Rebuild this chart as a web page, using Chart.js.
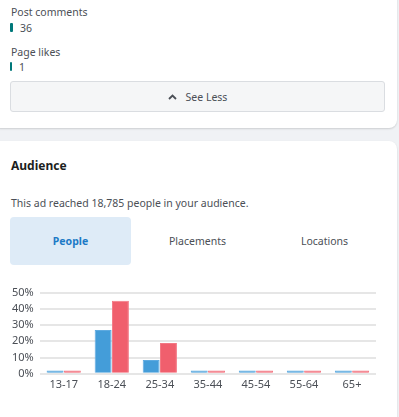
<!DOCTYPE html>
<html>
<head>
<meta charset="utf-8">
<script src="https://cdn.jsdelivr.net/npm/chart.js@4"></script>
<style>
  body { margin: 0; background: #f0f2f5; font-family: "Noto Sans", sans-serif; color: #1c1e21; width: 399px; height: 417px; overflow: hidden; position: relative; }
  .card { position: absolute; background: #fff; border-radius: 8px; box-shadow: 0 1px 2px rgba(0,0,0,0.15); }
  .t { position: absolute; font-size: 10.5px; color: #4b4f56; white-space: nowrap; }
  .mark { position: absolute; background: #00787a; border-radius: 1px; }
  .btn { position: absolute; left: 10px; top: 81px; width: 373px; height: 29px; background: #f5f6f7; border: 1px solid #dadde1; border-radius: 3px; font-size: 10.5px; color: #4b4f56; display: flex; align-items: center; justify-content: center; }
  .tabs { position: absolute; left: 10px; top: 217px; display: flex; gap: 6px; }
  .tab { width: 121px; height: 48px; border-radius: 4px; font-size: 10.5px; color: #4b4f56; display: flex; align-items: center; justify-content: center; }
  .tab.on { background: #deebf7; color: #1d7ac6; font-weight: bold; }
  #wrap { position: absolute; left: 0; top: 280px; width: 392px; height: 115px; }
</style>
</head>
<body>
<div class="card" style="left:-8px; top:-10px; width:405px; height:138px;"></div>
<div class="card" style="left:-8px; top:141px; width:405px; height:290px;"></div>

<div class="t" style="left:11px; top:5px;">Post comments</div>
<div class="mark" style="left:10px; top:23px; width:3px; height:9px;"></div>
<div class="t" style="left:20px; top:21px;">36</div>
<div class="t" style="left:11px; top:45px;">Page likes</div>
<div class="mark" style="left:10px; top:62px; width:2px; height:9px;"></div>
<div class="t" style="left:19px; top:60px;">1</div>
<div class="btn"><svg width="9" height="6" viewBox="0 0 9 6" style="margin-right:9px"><path d="M1 5 L4.5 1.5 L8 5" stroke="#4b4f56" stroke-width="1.8" fill="none"/></svg>See Less</div>

<div class="t" style="left:11px; top:157px; font-size:12px; font-weight:bold; color:#1c1e21;">Audience</div>
<div class="t" style="left:11px; top:196px;">This ad reached 18,785 people in your audience.</div>
<div class="tabs">
  <div class="tab on">People</div>
  <div class="tab">Placements</div>
  <div class="tab">Locations</div>
</div>

<div id="wrap"><canvas id="graph"></canvas></div>

<script>
var ageGroups = ["13-17", "18-24", "25-34", "35-44", "45-54", "55-64", "65+"];
var menShare = [2, 27, 8.5, 2, 2, 2, 2];
var womenShare = [2, 45, 19, 2, 2, 2, 2];
var yTicks = [0, 10, 20, 30, 40, 50];

var ctx = document.getElementById("graph").getContext("2d");
var audienceChart = new Chart(ctx, {
  type: "bar",
  data: {
    labels: ageGroups,
    datasets: [
      {
        label: "Men",
        data: menShare,
        backgroundColor: "#449dd9",
        borderColor: "#5eaae0",
        borderWidth: 1,
        borderSkipped: "bottom"
      },
      {
        label: "Women",
        data: womenShare,
        backgroundColor: "#f05f6d",
        borderColor: "#f37884",
        borderWidth: 1,
        borderSkipped: "bottom"
      }
    ]
  },
  options: {
    responsive: true,
    maintainAspectRatio: false,
    animation: false,
    layout: { padding: { left: 6, right: 16, top: 4, bottom: 0 } },
    datasets: { bar: { categoryPercentage: 0.72, barPercentage: 0.98 } },
    plugins: { legend: { display: false }, tooltip: { enabled: false } },
    scales: {
      x: {
        grid: { display: false, drawTicks: false, tickLength: 0 },
        border: { display: false },
        ticks: { color: "#4b4f56", font: { family: "Noto Sans", size: 11 }, padding: 4 }
      },
      y: {
        min: 0,
        max: 50,
        afterBuildTicks: function (axis) {
          axis.ticks = yTicks.map(function (v) { return { value: v }; });
        },
        grid: { color: "#e6e6e6", lineWidth: 2, drawTicks: false },
        border: { display: false },
        ticks: {
          autoSkip: false,
          color: "#4b4f56",
          font: { family: "Noto Sans", size: 11 },
          padding: 6,
          callback: function (v) { return v + "%"; }
        }
      }
    }
  }
});
</script>
</body>
</html>
